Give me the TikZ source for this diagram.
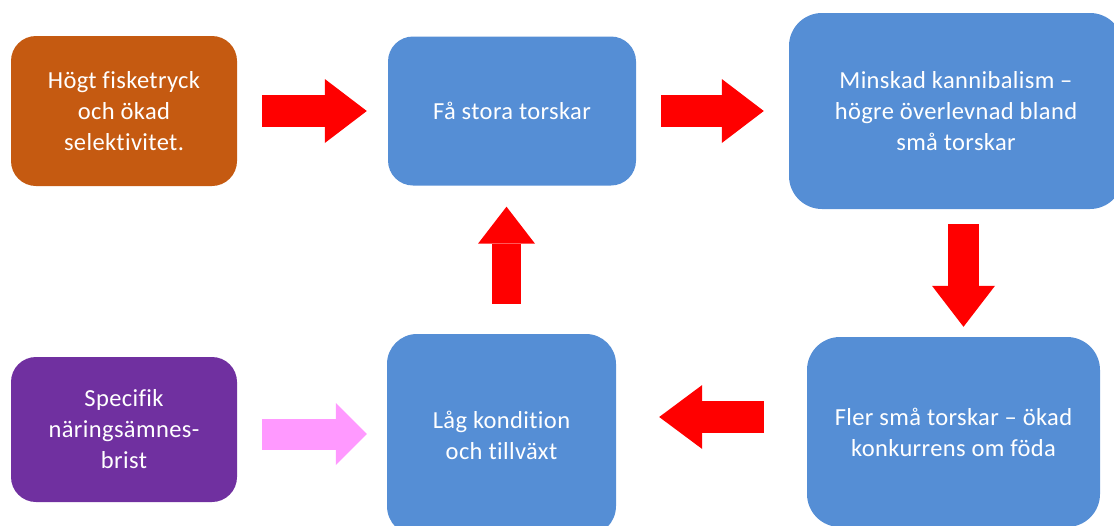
\documentclass[tikz,border=0pt]{standalone}
\usepackage{fontspec}
\setmainfont{Carlito}[Ligatures=NoCommon,LetterSpace=1.5]
\usetikzlibrary{arrows.meta}
\definecolor{boxblue}{HTML}{558ED5}
\definecolor{boxorange}{HTML}{C55A11}
\definecolor{boxpurple}{HTML}{7030A0}
\definecolor{arrowred}{HTML}{FF0000}
\definecolor{arrowpink}{HTML}{FF99FF}
\tikzset{
  blockarrow/.style={line width=32pt,-{Triangle[length=42pt,width=64pt,line width=0pt]}},
}

\begin{document}
\begin{tikzpicture}[x=1pt,y=-1pt]
        \useasboundingbox (0,0) rectangle (1114,525);

        \begin{scope}[every node/.style={rectangle,rounded corners=25pt,inner sep=0pt,align=center,text=white,font=\fontsize{24.5pt}{31pt}\selectfont}]
          \node[fill=boxorange,minimum width=226pt,minimum height=150pt] (hogt)  at (124,111)   {Högt fisketryck\\och ökad\\selektivitet.};
          \node[fill=boxblue,minimum width=248pt,minimum height=149pt]   (fa)    at (512,111)   {Få stora torskar};
          \node[fill=boxblue,minimum width=334pt,minimum height=196pt,rounded corners=33pt] (minsk) at (956,111) {Minskad kannibalism –\\högre överlevnad bland\\små torskar};
          \node[fill=boxpurple,minimum width=226pt,minimum height=145pt] (brist) at (124,429.5) {Specifik\\näringsämnes-\\brist};
          \node[fill=boxblue,minimum width=229pt,minimum height=202pt,rounded corners=30pt] (lag)  at (501.5,435) {Låg kondition\\och tillväxt};
          \node[fill=boxblue,minimum width=293pt,minimum height=190pt,rounded corners=33pt] (fler) at (953.5,432) {Fler små torskar – ökad\\konkurrens om föda};
        \end{scope}

        \begin{scope}[every edge/.style={draw=arrowred,blockarrow}]
          \path ([xshift=25pt]hogt.east) edge ([xshift=-21pt]fa.west);
          \path ([xshift=25pt]fa.east) edge ([xshift=-25pt]minsk.west);
          \path ([xshift=7.5pt,yshift=-15pt]minsk.south) edge[line width=31pt,-{Triangle[length=41pt,width=63pt,line width=0pt]}] ([xshift=10pt,yshift=10pt]fler.north);
          \path ([xshift=-43pt,yshift=15pt]fler.west) edge[-{Triangle[length=43pt,width=64pt,line width=0pt]}] ([xshift=43pt,yshift=18pt]lag.east);
          \path ([xshift=5pt,yshift=30pt]lag.north) edge[line width=29pt,-{Triangle[length=37pt,width=57pt,line width=0pt]}] ([xshift=-5.5pt,yshift=-21pt]fa.south);
          \path ([xshift=25pt,yshift=-4.5pt]brist.east) edge[draw=arrowpink,line width=31pt,-{Triangle[length=31pt,width=62pt,line width=0pt]}] ([xshift=-20pt,yshift=1pt]lag.west);
        \end{scope}

      \end{tikzpicture}
\end{document}
